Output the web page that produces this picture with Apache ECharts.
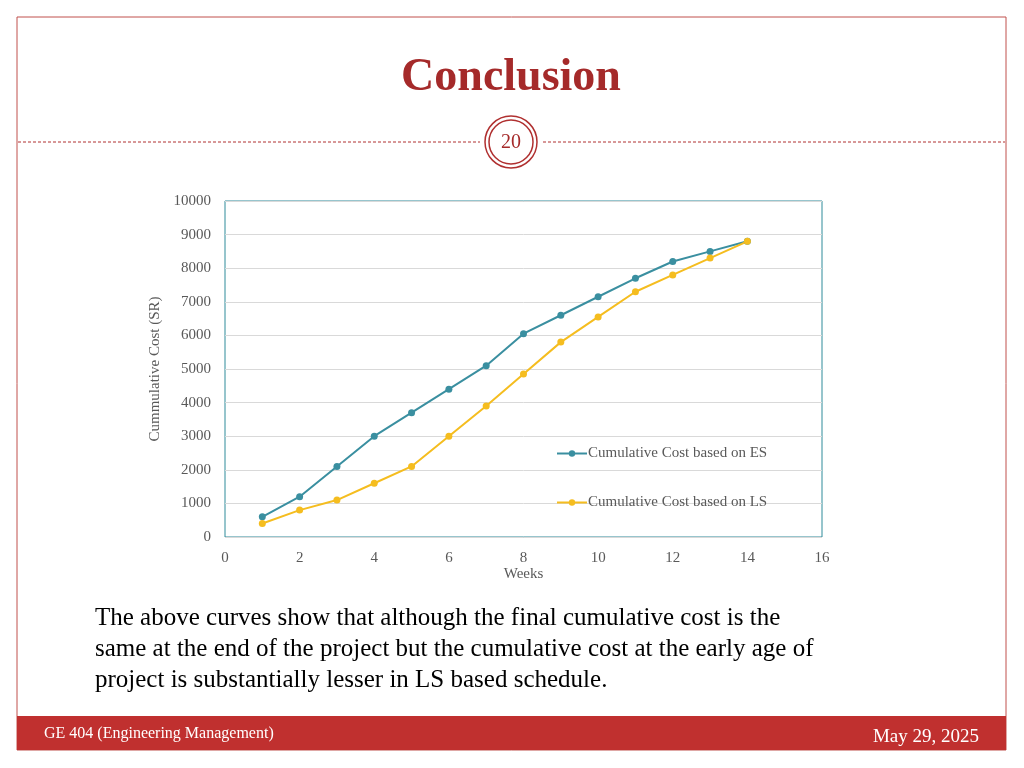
<!DOCTYPE html>
<html><head><meta charset="utf-8">
<script src="https://cdn.jsdelivr.net/npm/echarts@6/dist/echarts.min.js"></script>
<style>html,body{margin:0;padding:0;background:#fff}#c{width:1024px;height:768px}</style>
</head><body><div id="c"></div>
<script>
const weeks = [1,2,3,4,5,6,7,8,9,10,11,12,13,14];
const esCost = [600,1200,2100,3000,3700,4400,5100,6050,6600,7150,7700,8200,8500,8800];
const lsCost = [400,800,1100,1600,2100,3000,3900,4850,5800,6550,7300,7800,8300,8800];
const esName = 'Cumulative Cost based on ES';
const lsName = 'Cumulative Cost based on LS';
const F = 'Liberation Serif';
const chart = echarts.init(document.getElementById('c'));
chart.setOption({
  animation:false,
  textStyle:{fontFamily:F},
  graphic:[
    {type:'rect',shape:{x:17,y:17,width:989,height:733},style:{fill:'none',stroke:'#c0504d',lineWidth:1}},
    {type:'text',x:511,y:78,style:{text:'Conclusion',font:'bold 46px "Liberation Serif"',fill:'#a52a2a',align:'center',verticalAlign:'middle'}},
    {type:'line',shape:{x1:18,y1:142,x2:480,y2:142},style:{stroke:'#b03030',lineDash:[3,2],lineWidth:1}},
    {type:'line',shape:{x1:543,y1:142,x2:1005,y2:142},style:{stroke:'#b03030',lineDash:[3,2],lineWidth:1}},
    {type:'circle',shape:{cx:511,cy:142,r:26},style:{fill:'#fff',stroke:'#b03030',lineWidth:1.5}},
    {type:'circle',shape:{cx:511,cy:142,r:22},style:{fill:'#fff',stroke:'#b03030',lineWidth:1.5}},
    {type:'text',x:511,y:143,style:{text:'20',font:'20px "Liberation Serif"',fill:'#a52a2a',align:'center',verticalAlign:'middle'}},
    {type:'text',x:95,y:649,style:{text:'The above curves show that although the final cumulative cost is the\nsame at the end of the project but the cumulative cost at the early age of\nproject is substantially lesser in LS based schedule.',font:'25px "Liberation Serif"',fill:'#000',lineHeight:31,verticalAlign:'middle'}},
    {type:'rect',shape:{x:17,y:716,width:989,height:34},style:{fill:'#c0302f'}},
    {type:'text',x:44,y:734,style:{text:'GE 404 (Engineering Management)',font:'16px "Liberation Serif"',fill:'#fff',verticalAlign:'middle'}},
    {type:'text',x:979,y:737,style:{text:'May 29, 2025',font:'19px "Liberation Serif"',fill:'#fff',align:'right',verticalAlign:'middle'}}
  ],
  grid:{left:225,top:201,width:597,height:336,show:true,borderColor:'#2e8b9a',borderWidth:1},
  legend:{orient:'vertical',left:551,top:441,itemGap:34,itemWidth:30,itemHeight:8,
    textStyle:{fontFamily:F,fontSize:15,color:'#595959',padding:[0,0,0,-4]},
    data:[esName,lsName]},
  xAxis:{type:'value',min:0,max:16,interval:2,name:'Weeks',nameLocation:'middle',nameGap:26,
    nameTextStyle:{fontFamily:F,fontSize:15,color:'#595959'},
    axisLine:{show:false},axisTick:{show:false},splitLine:{show:false},
    axisLabel:{fontFamily:F,fontSize:15,color:'#595959',margin:14}},
  yAxis:{type:'value',min:0,max:10000,interval:1000,name:'Cummulative Cost (SR)',nameLocation:'middle',nameGap:62,
    nameTextStyle:{fontFamily:F,fontSize:15,color:'#595959'},
    axisLine:{show:false},axisTick:{show:false},splitLine:{lineStyle:{color:'#d9d9d9'}},
    axisLabel:{fontFamily:F,fontSize:15,color:'#595959',margin:14,formatter:v=>String(v)}},
  series:[
    {name:esName,type:'line',data:weeks.map((w,i)=>[w,esCost[i]]),color:'#3a8fa0',symbol:'circle',symbolSize:7,lineStyle:{width:2}},
    {name:lsName,type:'line',data:weeks.map((w,i)=>[w,lsCost[i]]),color:'#f5bd1f',symbol:'circle',symbolSize:7,lineStyle:{width:2}}
  ]
});
</script></body></html>
